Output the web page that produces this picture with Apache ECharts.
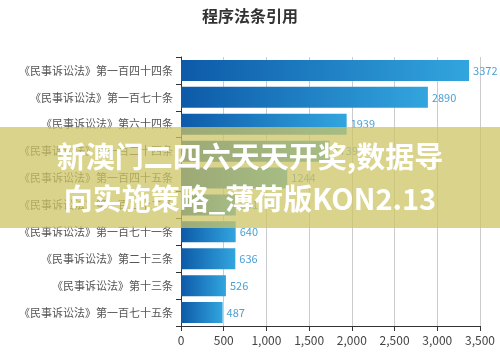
<!DOCTYPE html>
<html><head><meta charset="utf-8">
<script src="https://cdn.jsdelivr.net/npm/echarts@6/dist/echarts.min.js"></script>
<style>html,body{margin:0;padding:0;background:#fff}#c{width:500px;height:357px}</style>
</head><body><div id="c"></div>
<script>
const categories = [
  "《民事诉讼法》第一百四十四条",
  "《民事诉讼法》第一百七十条",
  "《民事诉讼法》第六十四条",
  "《民事诉讼法》第一百二十四条",
  "《民事诉讼法》第一百四十五条",
  "《民事诉讼法》第一百二十二条",
  "《民事诉讼法》第一百七十一条",
  "《民事诉讼法》第二十三条",
  "《民事诉讼法》第十三条",
  "《民事诉讼法》第一百七十五条"
];
const values = [3372, 2890, 1939, 1739, 1244, 641, 640, 636, 526, 487];
const xTicks = [0, 500, 1000, 1500, 2000, 2500, 3000, 3500];
const titleText = "程序法条引用";
const overlayLines = ["新澳门二四六天天开奖,数据导", "向实施策略_薄荷版KON2.13"];

const chart = echarts.init(document.getElementById('c'));
chart.setOption({
  animation: false,
  title: {text: titleText, left: 'center', top: 3,
    textStyle: {fontSize: 16, fontWeight: 'bold', color: '#333', fontFamily: 'Noto Sans CJK SC'}},
  grid: {left: 181, right: 20, top: 57, bottom: 31},
  xAxis: {type: 'value', min: 0, max: xTicks[xTicks.length-1], interval: 500,
    axisLine: {show: true, lineStyle: {color: '#333'}},
    axisTick: {show: true, lineStyle: {color: '#333'}},
    axisLabel: {color: '#444', fontSize: 12, fontFamily: 'Noto Sans CJK SC',
      formatter: v => v.toLocaleString('en-US')},
    splitLine: {show: true, lineStyle: {color: '#ccc'}}},
  yAxis: {type: 'category', data: categories, inverse: true,
    axisLine: {show: true, lineStyle: {color: '#333'}},
    axisTick: {show: true, lineStyle: {color: '#333'}},
    axisLabel: {color: '#555', fontSize: 11, fontFamily: 'Noto Sans CJK SC', margin: 8}},
  series: [{
    type: 'bar', data: values, barWidth: 21,
    itemStyle: {color: new echarts.graphic.LinearGradient(0, 0, 1, 0, [
      {offset: 0, color: '#0d5aa8'}, {offset: 1, color: '#32a5de'}])},
    label: {show: true, position: 'right', color: '#4a9fd4', fontSize: 11, distance: 4,
      fontFamily: 'Noto Sans CJK SC'}
  }],
  graphic: [
    {type: 'rect', left: 0, top: 127, shape: {width: 500, height: 101},
      style: {fill: 'rgba(206,196,102,0.75)'}, z: 100},
    {type: 'text', left: 'center', top: 142, z: 101,
      style: {text: overlayLines[0], fill: '#fff', font: 'bold 29px "Noto Sans CJK SC"'}},
    {type: 'text', left: 'center', top: 184, z: 101,
      style: {text: overlayLines[1], fill: '#fff', font: 'bold 29px "Noto Sans CJK SC"'}}
  ]
});
</script></body></html>
